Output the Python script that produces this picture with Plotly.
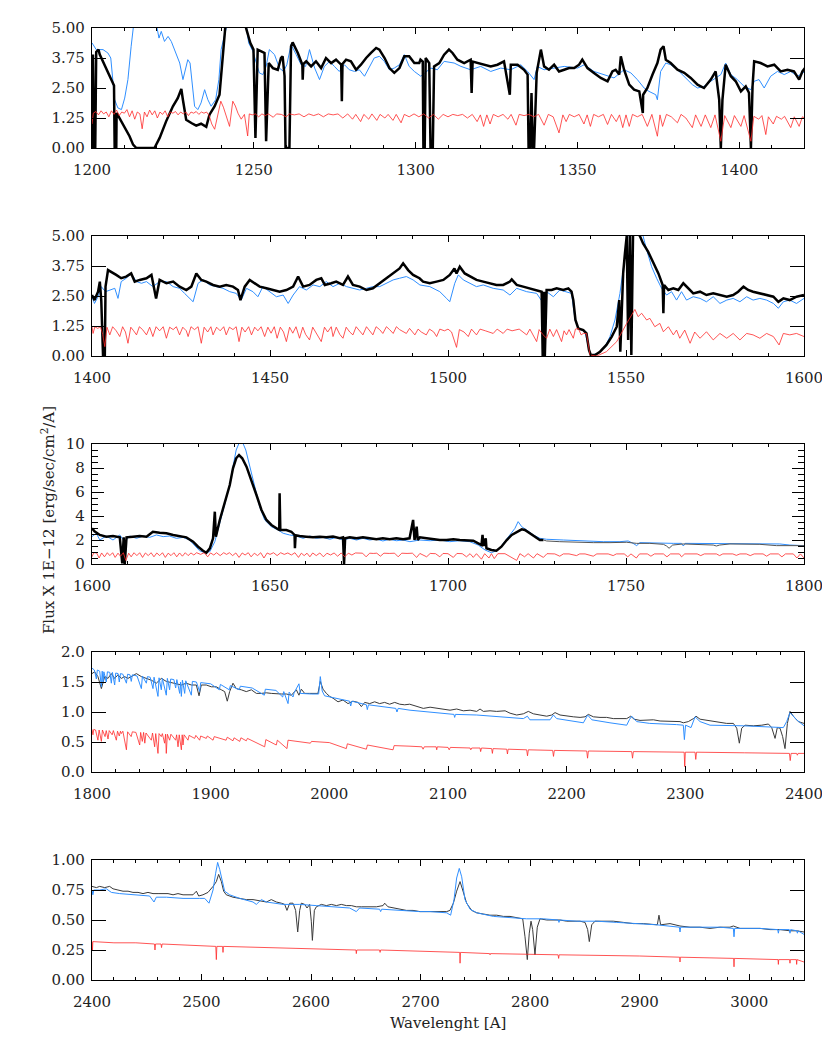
import plotly.graph_objects as go
from plotly.subplots import make_subplots

# ---------------- data: (wavelength [A], flux [1E-12 erg/s/cm2/A]) ----------------
P1_BLACK = [(1200.0,0.0),(1200.3,3.9),(1200.6,0.0),(1201.0,0.0),(1201.3,4.0),(1202.0,4.1),(1202.4,3.89),
 (1204.4,3.33),(1206.5,2.71),(1206.8,2.6),(1207.0,0.0),(1207.5,0.0),(1207.6,1.46),(1209.6,0.97),(1211.6,0.49),
 (1212.7,0.14),(1213.7,0.0),(1219.3,0.0),(1220.9,0.42),(1222.9,1.11),(1225.0,1.74),(1226.5,2.08),(1227.6,2.46),
 (1228.1,2.0),(1229.1,1.18),(1230.7,1.04),(1232.2,0.93),(1233.7,1.01),(1235.3,0.88),(1236.3,1.39),(1237.9,1.74),
 (1239.4,2.22),(1240.2,3.4),(1241.3,5.0),(1241.8,6.0),(1247.2,6.0),(1247.6,5.0),(1248.9,4.38),(1249.9,4.1),
 (1250.5,0.42),(1251.2,4.1),(1252.3,4.03),(1253.3,3.96),(1253.8,0.28),(1254.6,3.54),(1255.9,3.33),(1257.4,3.26),
 (1258.4,3.75),(1258.9,3.82),(1259.5,3.0),(1259.8,0.0),(1261.0,0.0),(1261.5,4.24),(1262.0,4.4),(1263.6,3.96),
 (1265.0,3.47),(1265.1,2.85),(1265.3,3.5),(1266.2,3.61),(1267.7,3.4),(1269.2,3.61),(1270.8,3.33),(1272.3,3.75),
 (1273.9,3.54),(1275.4,3.68),(1277.0,3.47),(1277.2,1.95),(1277.4,3.5),(1278.5,3.68),(1280.0,3.61),(1281.6,3.26),
 (1283.1,3.47),(1284.7,3.75),(1286.2,3.96),(1287.8,4.17),(1288.8,4.1),(1290.4,3.75),(1291.9,3.33),(1293.4,3.13),
 (1295.0,3.33),(1296.5,3.82),(1298.0,3.82),(1299.6,3.54),(1301.1,3.54),(1301.5,3.68),(1302.2,3.6),(1302.4,0.0),
 (1302.8,0.0),(1303.1,3.75),(1304.2,3.54),(1304.6,0.0),(1305.3,0.0),(1305.7,3.4),(1307.3,3.54),(1308.8,3.89),
 (1310.3,4.1),(1311.4,3.96),(1312.9,3.68),(1315.0,3.54),(1317.0,3.68),(1317.3,2.29),(1317.6,3.6),(1319.1,3.54),
 (1321.2,3.47),(1323.2,3.4),(1325.3,3.47),(1327.3,3.61),(1329.1,2.22),(1329.4,3.47),(1331.5,3.47),(1333.5,3.26),
 (1334.6,3.06),(1334.9,0.0),(1335.4,0.0),(1335.8,2.29),(1336.2,0.0),(1336.6,0.0),(1337.4,3.13),(1338.7,4.1),
 (1339.7,3.4),(1341.2,3.26),(1342.8,3.47),(1344.3,3.19),(1345.9,3.26),(1347.4,3.33),(1349.0,3.33),(1350.5,3.47),
 (1351.5,3.68),(1353.1,3.33),(1355.1,3.13),(1357.2,2.92),(1359.3,2.78),(1360.8,3.19),(1361.8,3.26),(1362.9,3.06),
 (1363.4,3.82),(1364.4,3.26),(1366.0,2.64),(1367.5,2.43),(1369.1,2.36),(1370.2,1.46),(1370.3,2.22),(1371.6,2.5),
 (1373.2,3.06),(1374.7,3.54),(1375.7,4.1),(1376.6,4.24),(1377.3,3.68),(1378.8,3.54),(1380.9,3.26),(1383.0,3.13),
 (1385.0,2.92),(1387.1,2.64),(1389.1,2.5),(1391.2,2.85),(1392.7,3.19),(1393.8,2.01),(1394.3,0.0),(1394.8,2.01),
 (1395.8,3.47),(1397.4,2.99),(1398.9,2.78),(1400.5,2.36),(1402.0,2.57),(1403.0,2.3),(1403.6,0.0),(1404.1,2.57),
 (1404.6,3.61),(1406.6,3.54),(1408.7,3.4),(1410.8,3.47),(1412.8,3.19),(1414.9,3.26),(1416.9,3.19),(1418.5,2.85),
 (1419.5,3.19),(1420.3,3.33)]

P1_BLUE = [(1200.0,4.38),(1201.3,4.1),(1203.4,4.1),(1204.9,3.96),(1205.8,3.75),(1207.0,2.01),(1208.0,1.67),
 (1209.1,1.6),(1210.1,2.08),(1211.1,2.85),(1212.1,4.24),(1213.0,5.0),(1213.6,6.0),(1219.5,6.0),(1220.1,5.0),
 (1220.7,4.58),(1221.4,4.86),(1222.4,4.44),(1223.5,4.65),(1224.5,4.44),(1225.5,4.1),(1227.1,3.54),(1228.1,2.85),
 (1228.9,3.26),(1229.6,3.68),(1230.3,3.54),(1231.0,2.71),(1231.7,1.74),(1232.7,1.6),(1233.7,1.88),(1234.8,2.43),
 (1235.8,2.01),(1236.8,1.74),(1238.2,2.01),(1239.2,2.85),(1239.9,4.1),(1240.6,4.51),(1241.5,5.0),(1242.0,6.0),
 (1247.3,6.0),(1247.8,5.0),(1248.4,4.38),(1249.7,4.03),(1250.7,3.54),(1251.7,3.13),(1252.8,3.06),(1253.8,3.4),
 (1254.8,4.1),(1256.4,3.89),(1257.9,3.33),(1259.2,3.19),(1260.2,3.47),(1261.5,4.31),(1263.1,3.89),(1264.6,3.47),
 (1266.0,3.4),(1267.2,4.1),(1268.8,3.33),(1270.3,2.85),(1271.8,3.4),(1273.4,3.61),(1274.9,3.4),(1276.4,3.19),
 (1278.0,3.47),(1279.5,3.26),(1281.1,3.19),(1282.6,3.26),(1284.2,2.99),(1285.7,3.4),(1287.2,3.75),(1288.8,3.82),
 (1290.3,3.61),(1291.9,3.26),(1293.4,3.33),(1295.0,3.47),(1296.5,3.89),(1298.0,3.4),(1299.6,3.19),(1301.6,2.99),
 (1304.7,3.33),(1306.7,3.26),(1308.8,3.61),(1311.9,3.54),(1314.0,3.4),(1317.0,3.26),(1320.1,3.4),(1323.2,3.19),
 (1326.3,3.33),(1329.4,3.26),(1332.5,3.47),(1334.6,3.19),(1336.6,2.85),(1337.6,3.4),(1339.7,3.26),(1342.8,3.33),
 (1345.9,3.4),(1350.0,3.33),(1352.1,3.47),(1355.1,3.19),(1358.2,3.06),(1361.3,2.92),(1364.4,3.26),(1366.5,3.13),
 (1368.5,2.85),(1370.6,2.5),(1372.1,2.36),(1374.2,2.22),(1374.7,2.01),(1375.7,3.19),(1377.3,3.54),(1378.8,3.47),
 (1380.9,3.26),(1383.0,2.99),(1385.5,2.64),(1387.1,2.5),(1389.1,2.57),(1391.2,2.78),(1394.3,3.06),(1395.8,3.54),
 (1397.4,3.06),(1399.4,2.85),(1401.5,2.57),(1403.6,2.43),(1404.6,2.78),(1406.1,2.85),(1407.7,2.5),(1409.7,2.99),
 (1411.8,3.19),(1413.9,3.06),(1415.9,3.19),(1418.0,2.99),(1420.3,3.19)]

P1_RED = [(1200.0,1.0),(1200.4,1.45),(1201.2,1.52),(1202.0,1.38),(1202.8,1.55),(1203.6,1.42),(1204.4,1.5),
 (1205.2,1.3),(1206.0,1.55),(1206.8,1.4),(1207.6,1.58),(1208.4,1.35),(1209.2,1.5),(1210.0,1.45),(1210.8,1.6),
 (1211.6,1.3),(1212.4,1.55),(1213.2,1.2),(1214.0,1.5),(1214.8,1.42),(1215.5,0.8),(1216.2,1.5),(1217.0,1.3),
 (1217.8,1.58),(1218.6,1.38),(1219.4,1.55),(1220.2,1.25),(1221.0,1.5),(1221.8,1.4),(1222.6,1.55),(1223.4,1.3),
 (1224.2,1.5),(1225.0,1.45),(1225.8,1.52),(1226.6,1.38),(1227.4,1.5),(1228.2,1.42),(1229.0,1.5),(1229.8,1.35),
 (1230.6,1.5),(1231.4,1.45),(1232.2,1.52),(1233.0,1.4),(1233.8,1.5),(1234.6,1.45),(1235.4,1.5),(1236.2,1.35),
 (1237.0,1.0),(1237.9,0.78),(1238.8,1.3),(1239.8,1.95),(1240.6,1.7),(1241.5,1.3),(1242.5,0.9),(1243.5,1.95),
 (1244.3,1.75),(1245.1,1.45),(1246.1,1.2),(1247.1,1.4),(1248.1,0.5),(1248.6,1.42),(1249.5,1.38),(1250.5,1.42),
 (1251.5,1.3),(1252.5,1.42),(1253.5,1.35),(1254.5,1.42),(1256.0,1.28),(1257.0,1.42),(1258.5,1.4),(1260.0,1.3),
 (1261.0,1.42),(1262.5,1.38),(1264.0,1.42),(1265.5,1.3),(1267.0,1.42),(1268.5,1.35),(1270.0,1.42),(1271.5,1.3),
 (1273.0,1.42),(1274.5,1.38),(1276.0,1.42),(1277.5,1.25),(1279.0,1.42),(1280.5,1.2),(1281.5,1.4),(1283.0,1.1),
 (1284.0,1.4),(1285.5,1.2),(1286.5,1.42),(1288.0,1.15),(1289.0,1.4),(1290.5,1.25),(1291.5,1.4),(1293.0,1.15),
 (1294.0,1.4),(1295.5,1.05),(1296.5,1.4),(1298.0,1.3),(1299.5,1.42),(1301.0,1.3),(1302.5,1.42),(1304.0,1.25),
 (1305.5,1.4),(1307.0,1.2),(1308.5,1.4),(1310.0,1.3),(1311.5,1.4),(1313.0,1.35),(1314.5,1.4),(1316.0,1.25),
 (1317.5,1.4),(1319.0,1.1),(1320.0,1.38),(1321.0,0.9),(1322.0,1.38),(1323.0,1.0),(1324.0,1.4),(1325.5,1.3),
 (1327.0,1.4),(1328.5,1.2),(1329.5,1.4),(1331.0,0.95),(1332.0,1.4),(1333.5,1.35),(1335.0,1.4),(1336.5,1.3),
 (1338.0,1.4),(1339.7,0.95),(1341.0,1.4),(1342.5,1.3),(1344.3,0.63),(1345.5,1.38),(1346.5,1.1),(1347.5,1.4),
 (1349.0,1.3),(1350.5,1.4),(1352.0,1.0),(1353.0,1.38),(1354.0,0.9),(1355.0,1.4),(1356.5,1.3),(1358.0,1.4),
 (1359.3,0.98),(1360.5,1.4),(1362.0,1.1),(1363.0,1.38),(1364.0,0.85),(1365.0,1.38),(1366.0,0.9),(1367.0,1.4),
 (1368.5,1.3),(1370.0,1.4),(1371.6,0.9),(1373.0,1.4),(1374.7,0.49),(1375.5,1.38),(1376.3,0.9),(1377.5,1.4),
 (1379.0,1.3),(1380.9,1.05),(1382.0,1.4),(1383.5,1.25),(1385.5,0.85),(1386.5,1.38),(1388.2,0.9),(1389.5,1.38),
 (1391.2,0.85),(1392.5,1.38),(1394.3,0.28),(1395.5,1.35),(1397.4,0.85),(1398.5,1.35),(1400.5,0.9),(1401.5,1.35),
 (1403.6,0.28),(1404.5,1.32),(1406.0,1.2),(1407.0,1.35),(1408.2,0.56),(1409.0,1.3),(1410.5,1.0),(1411.5,1.32),
 (1413.0,1.2),(1414.0,1.32),(1415.9,0.85),(1417.0,1.3),(1418.5,0.9),(1419.5,1.3),(1420.3,1.25)]

P2_BLACK = [(1400.0,2.54),(1400.7,2.33),(1401.7,2.68),(1402.2,3.1),(1402.6,2.33),(1403.1,0.0),(1403.6,0.0),
 (1403.8,2.89),(1404.5,3.58),(1405.4,3.51),(1406.8,3.38),(1408.2,3.24),(1409.6,3.31),(1411.0,3.44),(1412.0,3.1),
 (1413.4,3.17),(1415.3,3.24),(1416.7,3.38),(1417.6,2.68),(1418.0,2.4),(1419.0,3.17),(1420.9,3.03),(1422.8,3.1),
 (1424.6,2.89),(1426.5,2.75),(1427.9,2.89),(1429.3,3.44),(1430.7,3.17),(1432.1,3.1),(1434.0,2.96),(1435.9,2.89),
 (1437.7,2.96),(1439.6,2.89),(1441.0,2.75),(1441.7,2.33),(1442.9,2.89),(1444.3,3.17),(1445.7,3.03),(1447.1,2.89),
 (1449.0,2.82),(1450.8,2.75),(1452.7,2.68),(1454.6,2.75),(1456.5,2.89),(1457.9,3.31),(1459.3,2.89),(1461.1,2.96),
 (1463.0,3.17),(1464.4,3.24),(1465.4,2.96),(1467.2,3.03),(1468.6,3.1),(1470.5,2.96),(1471.9,3.31),(1473.3,2.96),
 (1475.2,2.89),(1477.1,2.75),(1478.9,2.82),(1480.8,3.03),(1482.7,3.24),(1484.6,3.44),(1486.4,3.65),(1487.4,3.86),
 (1488.8,3.58),(1490.2,3.38),(1492.0,3.24),(1493.0,3.1),(1494.9,3.03),(1496.8,3.1),(1498.7,3.17),(1500.5,3.38),
 (1501.8,3.65),(1502.4,3.44),(1503.3,3.72),(1504.7,3.44),(1506.2,3.31),(1508.0,3.17),(1509.9,3.1),(1511.8,3.03),
 (1513.6,2.96),(1515.5,2.96),(1517.4,3.1),(1517.9,3.19),(1519.3,2.96),(1521.1,2.89),(1523.0,2.82),(1524.9,2.75),
 (1526.3,2.68),(1526.6,0.0),(1527.0,2.68),(1527.2,0.0),(1527.7,2.75),(1529.1,2.75),(1530.5,2.82),(1532.4,2.75),
 (1533.8,2.82),(1534.7,2.68),(1535.2,2.33),(1535.8,1.5),(1536.6,1.15),(1538.0,1.08),(1538.9,0.94),(1539.6,0.25),
 (1540.1,0.04),(1541.3,0.04),(1542.7,0.18),(1544.5,0.46),(1546.0,0.81),(1547.4,1.22),(1548.1,2.33),(1548.4,0.18),
 (1548.8,2.33),(1549.2,3.44),(1549.7,4.28),(1550.2,5.0),(1550.6,0.67),(1551.1,5.3),(1551.5,0.04),(1552.0,5.3),
 (1553.9,5.0),(1554.8,4.69),(1556.2,4.35),(1557.6,3.93),(1559.1,3.44),(1560.3,2.96),(1560.5,1.78),(1560.7,2.96),
 (1561.9,2.75),(1563.3,2.82),(1564.7,2.75),(1566.1,3.03),(1567.5,2.82),(1568.9,2.61),(1570.8,2.68),(1572.6,2.54),
 (1574.5,2.61),(1576.4,2.54),(1578.3,2.47),(1580.1,2.54),(1581.5,2.68),(1583.0,2.89),(1584.3,2.75),(1585.7,2.68),
 (1587.6,2.61),(1589.5,2.54),(1591.4,2.47),(1592.8,2.26),(1594.2,2.4),(1596.0,2.33),(1597.9,2.47),(1600.0,2.54)]

P2_BLUE = [(1400.0,2.47),(1400.7,2.19),(1401.7,2.47),(1402.6,2.89),(1403.8,2.68),(1405.0,2.75),(1406.4,2.82),
 (1407.3,2.4),(1408.2,3.1),(1409.6,3.24),(1411.0,3.44),(1412.5,3.1),(1413.9,3.03),(1415.3,3.1),(1417.1,2.89),
 (1419.0,3.1),(1420.9,3.1),(1422.8,2.89),(1424.6,2.82),(1426.0,2.61),(1427.4,2.4),(1428.4,2.26),(1429.8,3.03),
 (1431.2,3.17),(1433.1,2.96),(1434.9,2.89),(1436.8,2.82),(1438.7,2.68),(1440.5,2.61),(1441.9,2.33),(1443.4,2.82),
 (1445.2,2.68),(1446.6,2.47),(1448.0,2.89),(1449.9,2.68),(1451.8,2.47),(1453.7,2.54),(1455.1,2.19),(1456.5,2.54),
 (1458.3,2.89),(1460.2,2.75),(1462.1,2.96),(1464.0,2.89),(1465.8,3.1),(1467.7,2.89),(1469.6,3.03),(1471.5,2.89),
 (1473.3,2.82),(1475.2,2.75),(1477.1,2.82),(1478.9,2.89),(1480.8,2.89),(1482.7,3.03),(1484.6,3.17),(1486.4,3.24),
 (1488.3,3.31),(1490.2,3.17),(1492.1,2.96),(1494.9,2.89),(1497.7,2.68),(1499.6,2.4),(1500.5,2.26),(1501.9,3.03),
 (1502.9,3.38),(1504.3,3.17),(1506.2,3.03),(1508.0,2.89),(1509.9,2.96),(1512.7,2.82),(1515.5,2.75),(1517.4,2.54),
 (1519.3,2.82),(1522.1,2.68),(1524.9,2.61),(1526.3,2.33),(1526.8,2.19),(1527.7,2.68),(1529.6,2.47),(1531.4,2.75),
 (1533.3,2.68),(1534.7,2.61),(1535.7,1.5),(1536.6,1.15),(1538.5,1.01),(1539.7,0.18),(1540.3,0.04),(1542.2,0.11),
 (1544.1,0.39),(1545.5,0.81),(1546.9,1.5),(1548.3,2.61),(1549.7,4.14),(1550.6,5.0),(1551.0,5.5),(1554.5,5.5),
 (1554.8,5.0),(1555.8,4.42),(1557.2,3.72),(1558.6,3.24),(1560.0,2.82),(1561.4,2.54),(1562.8,2.68),(1564.2,2.33),
 (1565.6,2.68),(1567.0,2.33),(1568.9,2.47),(1570.8,2.4),(1572.6,2.26),(1574.5,2.47),(1576.4,2.19),(1578.3,2.33),
 (1580.1,2.4),(1582.0,2.26),(1583.9,2.47),(1585.7,2.33),(1587.6,2.4),(1589.5,2.33),(1591.4,2.19),(1592.8,1.99),
 (1594.2,2.26),(1596.0,2.33),(1597.9,2.19),(1600.0,2.4)]

P2_RED = [(1400.0,1.22),(1400.3,0.94),(1400.8,1.22),(1401.6,1.15),(1402.4,1.22),(1403.0,0.9),(1403.6,0.39),
 (1404.2,1.2),(1405.0,0.88),(1405.8,1.22),(1406.8,1.05),(1407.8,0.81),(1408.6,1.22),(1409.4,1.0),(1410.1,0.53),
 (1410.9,1.2),(1411.7,1.05),(1412.5,0.88),(1413.3,1.22),(1414.2,1.1),(1415.3,0.88),(1416.2,1.2),(1417.1,0.81),
 (1418.0,1.22),(1419.0,1.05),(1420.0,1.22),(1420.9,0.74),(1421.8,1.2),(1422.8,1.1),(1423.7,1.22),(1424.6,0.88),
 (1425.5,1.2),(1426.5,1.05),(1427.0,0.81),(1427.8,1.22),(1428.8,1.1),(1429.8,1.22),(1430.7,0.53),(1431.5,1.2),
 (1432.5,1.0),(1433.4,1.22),(1434.0,0.88),(1435.0,1.2),(1436.0,1.05),(1437.0,1.22),(1437.7,0.88),(1438.6,1.2),
 (1439.6,1.1),(1440.5,1.22),(1441.3,0.6),(1442.1,1.2),(1443.0,1.0),(1444.0,1.22),(1444.8,0.88),(1445.7,1.2),
 (1446.6,1.05),(1447.5,1.22),(1448.5,0.81),(1449.4,1.2),(1450.3,0.95),(1451.2,1.22),(1452.0,0.74),(1452.9,1.2),
 (1453.8,1.0),(1454.6,0.6),(1455.5,1.2),(1456.4,0.95),(1457.3,1.22),(1458.3,0.74),(1459.2,1.2),(1460.0,0.9),
 (1461.1,0.67),(1462.0,1.2),(1463.0,0.95),(1464.4,0.6),(1465.3,1.2),(1466.2,1.0),(1467.2,1.22),(1467.7,0.81),
 (1468.6,1.2),(1469.6,0.9),(1470.5,0.74),(1471.4,1.2),(1472.4,1.0),(1473.3,0.88),(1474.2,1.22),(1475.2,1.05),
 (1476.1,0.88),(1477.1,1.22),(1478.0,1.05),(1478.9,0.88),(1479.8,1.22),(1480.8,1.1),(1481.7,0.94),(1482.7,1.22),
 (1483.6,1.1),(1484.6,0.94),(1485.5,1.22),(1486.4,1.1),(1488.3,0.94),(1489.2,1.15),(1490.7,0.88),(1491.6,1.12),
 (1492.5,1.0),(1493.9,0.88),(1494.8,1.12),(1496.0,1.0),(1496.8,0.81),(1497.7,1.12),(1499.0,1.05),(1500.0,1.12),
 (1501.0,1.0),(1502.4,0.36),(1503.2,1.1),(1504.5,1.0),(1505.7,0.81),(1506.6,1.12),(1508.0,0.88),(1509.0,1.12),
 (1510.5,1.05),(1512.7,0.94),(1513.8,1.12),(1515.5,0.94),(1516.6,1.12),(1518.0,1.05),(1520.0,1.12),(1522.1,0.88),
 (1523.0,1.12),(1524.9,0.6),(1525.6,1.1),(1526.6,0.9),(1527.7,0.74),(1528.6,1.12),(1529.6,0.81),(1530.5,1.1),
 (1531.9,0.6),(1532.6,1.05),(1533.3,0.88),(1534.0,1.1),(1535.2,0.74),(1535.8,1.12),(1536.6,1.15),(1537.4,0.88),
 (1538.0,0.94),(1538.9,0.94),(1539.9,0.04),(1541.8,0.0),(1544.5,0.18),(1547.4,0.6),(1550.2,1.36),(1552.5,1.94),
 (1553.4,1.64),(1554.4,1.78),(1555.8,1.5),(1556.7,1.57),(1558.1,1.22),(1559.5,1.36),(1560.5,1.01),(1561.9,1.22),
 (1563.3,0.88),(1564.2,1.08),(1565.1,0.74),(1566.5,1.08),(1568.0,0.53),(1569.3,1.0),(1570.8,0.74),(1572.6,1.01),
 (1574.5,0.67),(1576.4,0.94),(1578.3,0.74),(1580.1,0.94),(1582.0,0.67),(1583.9,0.94),(1585.7,0.88),(1587.6,0.74),
 (1589.5,0.94),(1591.4,0.81),(1593.0,0.46),(1594.2,0.94),(1596.0,0.88),(1597.9,0.94),(1600.0,0.81)]

P3_BLACK = [(1600.0,2.97),(1600.7,2.72),(1602.2,2.42),(1604.0,2.28),(1605.9,2.33),(1607.8,2.22),(1608.5,0.05),
 (1608.9,2.22),(1609.2,0.0),(1609.7,2.22),(1611.5,2.28),(1613.4,2.33),(1615.3,2.28),(1617.1,2.69),(1619.0,2.61),
 (1620.9,2.56),(1622.8,2.42),(1624.6,2.33),(1626.5,2.22),(1628.4,1.86),(1629.8,1.44),(1631.2,1.11),(1632.1,0.94),
 (1633.1,1.31),(1634.0,2.14),(1634.5,4.36),(1634.8,2.28),(1635.9,3.67),(1637.3,5.06),(1638.7,6.58),(1639.6,7.97),
 (1640.5,8.81),(1641.3,9.08),(1642.2,8.81),(1643.4,8.11),(1644.8,7.0),(1646.2,5.75),(1647.6,4.5),(1649.0,3.67),
 (1650.4,3.25),(1651.8,2.97),(1652.6,2.83),(1652.7,5.9),(1652.9,2.83),(1654.6,2.83),(1656.0,2.69),(1656.9,2.42),
 (1657.0,1.31),(1657.2,2.4),(1658.3,2.33),(1660.2,2.28),(1662.1,2.22),(1664.0,2.28),(1665.8,2.22),(1667.7,2.28),
 (1669.6,2.14),(1670.5,2.22),(1670.8,0.0),(1671.1,2.14),(1672.4,2.22),(1674.3,2.14),(1676.1,2.22),(1678.0,2.14),
 (1679.9,2.06),(1681.7,2.14),(1683.6,2.06),(1685.5,2.14),(1687.4,2.06),(1689.2,2.14),(1690.2,3.67),(1690.6,2.0),
 (1691.2,3.11),(1691.5,2.0),(1692.1,2.22),(1694.0,2.14),(1695.9,2.06),(1697.7,2.0),(1699.6,2.0),(1701.5,2.06),
 (1703.3,2.0),(1705.2,1.94),(1707.1,1.94),(1708.5,1.72),(1709.4,1.58),(1709.7,2.42),(1710.0,1.5),(1710.6,2.14),
 (1710.8,1.31),(1712.2,1.17),(1713.6,1.11),(1715.0,1.44),(1716.5,2.0),(1717.9,2.42),(1719.3,2.69),(1720.7,2.89),
 (1721.6,2.83),(1723.0,2.56),(1724.4,2.28),(1725.8,2.0),(1726.8,2.0)]

P3_BLACK_LOWRES = [(1726.8,2.0),(1727.7,1.92),(1731.4,1.86),(1736.1,1.81),(1740.8,1.78),(1745.5,1.78),
 (1750.2,1.81),(1753.0,1.72),(1756.7,1.72),(1760.5,1.64),(1761.4,1.5),(1762.1,1.31),(1763.1,1.58),(1766.1,1.67),
 (1770.8,1.64),(1774.5,1.58),(1775.4,1.5),(1776.3,1.58),(1779.2,1.67),(1783.0,1.67),(1787.6,1.64),(1792.3,1.53),
 (1796.0,1.5),(1800.0,1.53)]

P3_BLUE = [(1600.0,2.28),(1601.2,2.56),(1602.2,2.0),(1604.0,2.33),(1605.9,2.0),(1607.8,2.42),(1609.2,1.86),
 (1610.6,2.33),(1612.5,2.14),(1614.4,2.33),(1616.2,2.22),(1618.1,2.42),(1620.0,2.28),(1621.8,2.33),(1623.7,2.14),
 (1625.6,2.22),(1627.4,2.0),(1628.8,1.58),(1630.2,1.11),(1631.6,0.94),(1633.1,1.03),(1634.5,1.86),(1635.9,3.39),
 (1637.3,4.92),(1638.7,6.58),(1639.6,8.11),(1640.5,9.5),(1641.3,10.06),(1642.4,10.06),(1643.2,9.5),(1644.3,8.11),
 (1645.7,6.44),(1647.1,4.78),(1648.5,3.67),(1650.4,3.11),(1652.3,2.83),(1653.7,2.56),(1655.5,2.42),(1657.4,2.33),
 (1659.3,2.14),(1661.2,2.33),(1663.0,2.14),(1664.9,2.22),(1666.8,2.06),(1668.7,2.22),(1670.5,2.0),(1672.4,2.14),
 (1674.3,2.0),(1676.1,2.14),(1678.0,2.0),(1679.9,2.08),(1681.7,1.92),(1683.6,2.06),(1685.5,1.94),(1687.4,2.0),
 (1689.3,1.86),(1692.1,2.0),(1695.0,1.94),(1697.7,2.0),(1700.5,1.86),(1703.3,1.94),(1706.1,1.86),(1708.5,1.58),
 (1710.4,1.17),(1712.2,0.94),(1714.1,1.17),(1716.0,1.86),(1717.4,2.42),(1718.8,2.97),(1719.7,3.53),(1720.7,3.11),
 (1722.1,2.83),(1724.0,2.42),(1725.8,2.14),(1727.7,2.06),(1732.4,2.0),(1738.0,1.92),(1743.6,1.86),(1748.3,1.86),
 (1750.6,1.92),(1752.0,1.72),(1753.0,1.53),(1753.9,1.78),(1758.6,1.72),(1763.3,1.72),(1765.6,1.72),(1766.1,1.5),
 (1766.6,1.72),(1771.7,1.72),(1778.3,1.72),(1783.0,1.72),(1788.5,1.67),(1793.2,1.67),(1796.0,1.58),(1800.0,1.53)]

P3_RED = [(1600.0,0.6),(1600.5,0.94),(1601.3,0.92),(1602.0,0.5),(1602.7,0.92),(1603.5,0.6),(1604.3,0.94),
 (1605.0,0.7),(1605.8,0.94),(1606.5,0.55),(1607.3,0.9),(1608.0,0.65),(1608.8,0.94),(1609.5,0.3),(1610.3,0.9),
 (1611.0,0.6),(1611.8,0.94),(1612.6,0.7),(1613.4,0.94),(1614.2,0.55),(1615.0,0.92),(1615.8,0.7),(1616.6,0.94),
 (1617.4,0.6),(1618.2,0.92),(1619.0,0.7),(1619.8,0.94),(1620.6,0.55),(1621.4,0.9),(1622.2,0.7),(1623.0,0.94),
 (1623.8,0.6),(1624.6,0.92),(1625.4,0.65),(1626.2,0.94),(1627.0,0.7),(1627.8,0.92),(1628.6,0.75),(1629.4,0.94),
 (1630.5,0.8),(1631.5,0.94),(1632.5,0.6),(1633.3,0.92),(1634.2,0.75),(1635.0,0.94),(1636.0,0.7),(1637.0,0.94),
 (1637.8,0.8),(1638.6,0.94),(1639.5,0.7),(1640.4,0.92),(1641.3,0.55),(1642.2,0.92),(1643.0,0.75),(1643.9,0.94),
 (1644.7,0.6),(1645.6,0.9),(1646.5,0.7),(1647.4,0.94),(1648.3,0.5),(1649.2,0.92),(1650.0,0.8),(1651.0,0.94),
 (1652.0,0.7),(1653.0,0.94),(1654.0,0.8),(1655.0,0.92),(1656.0,0.75),(1657.0,0.94),(1658.0,0.55),(1658.8,0.9),
 (1659.6,0.7),(1660.4,0.9),(1661.2,0.6),(1662.0,0.92),(1663.0,0.7),(1664.0,0.92),(1665.0,0.6),(1666.0,0.9),
 (1667.0,0.75),(1668.0,0.92),(1669.0,0.65),(1670.0,0.92),(1671.0,0.6),(1672.0,0.9),(1673.0,0.75),(1674.0,0.92),
 (1675.0,0.88),(1676.0,0.9),(1677.0,0.6),(1678.0,0.9),(1679.0,0.88),(1680.0,0.9),(1681.0,0.65),(1682.0,0.9),
 (1683.5,0.88),(1685.0,0.9),(1686.0,0.6),(1687.0,0.9),(1688.5,0.88),(1690.0,0.9),(1691.2,0.55),(1692.1,0.88),
 (1694.0,0.6),(1695.0,0.88),(1696.5,0.86),(1697.7,0.6),(1698.6,0.88),(1700.0,0.86),(1701.5,0.55),(1702.5,0.88),
 (1704.0,0.86),(1705.2,0.6),(1706.2,0.86),(1707.1,0.55),(1708.0,0.86),(1709.4,0.4),(1710.3,0.86),(1711.5,0.5),
 (1712.2,0.86),(1713.0,0.45),(1714.0,0.86),(1716.0,0.86),(1719.3,0.3),(1720.2,0.86),(1721.5,0.6),(1722.5,0.86),
 (1724.0,0.5),(1725.0,0.86),(1726.8,0.55),(1727.8,0.86),(1730.0,0.84),(1731.4,0.65),(1732.4,0.84),(1734.0,0.84),
 (1736.1,0.7),(1737.0,0.84),(1738.5,0.84),(1740.8,0.65),(1741.8,0.84),(1745.0,0.84),(1746.4,0.7),(1747.3,0.84),
 (1749.5,0.84),(1750.5,0.6),(1751.4,0.84),(1752.9,0.5),(1753.8,0.84),(1756.0,0.84),(1757.0,0.65),(1758.0,0.84),
 (1760.5,0.84),(1761.5,0.6),(1762.5,0.84),(1765.0,0.84),(1765.6,0.6),(1766.5,0.84),(1770.0,0.84),(1771.0,0.7),
 (1772.0,0.84),(1775.4,0.84),(1776.3,0.7),(1777.2,0.84),(1780.0,0.84),(1781.0,0.72),(1782.0,0.84),(1783.8,0.84),
 (1784.9,0.7),(1786.0,0.84),(1788.5,0.84),(1789.5,0.65),(1790.5,0.84),(1792.8,0.84),(1793.8,0.6),(1794.8,0.84),
 (1797.0,0.84),(1798.0,0.5),(1799.0,0.84),(1800.0,0.5)]

P4_BLACK = [(1800.0,1.64),(1802.2,1.67),(1805.0,1.59),(1807.9,1.39),(1810.7,1.59),(1813.5,1.56),(1816.3,1.64),
 (1819.1,1.56),(1821.9,1.62),(1824.7,1.56),(1827.5,1.59),(1830.3,1.56),(1833.1,1.59),(1837.4,1.64),(1841.6,1.59),
 (1845.8,1.56),(1850.0,1.53),(1854.2,1.48),(1858.4,1.56),(1862.6,1.51),(1866.9,1.49),(1871.1,1.48),(1875.3,1.45),
 (1879.5,1.48),(1883.7,1.45),(1887.9,1.45),(1890.2,1.27),(1892.1,1.45),(1896.3,1.45),(1900.6,1.42),(1904.8,1.42),
 (1909.0,1.37),(1911.8,1.34),(1914.0,1.18),(1916.0,1.34),(1918.8,1.48),(1921.6,1.39),(1925.8,1.37),(1930.0,1.34),
 (1934.3,1.37),(1938.5,1.31),(1942.7,1.31),(1946.9,1.32),(1951.1,1.31),(1955.3,1.3),(1959.6,1.3),(1963.8,1.3),
 (1968.0,1.28),(1972.2,1.37),(1974.4,1.28),(1976.4,1.38),(1979.2,1.31),(1983.4,1.31),(1987.6,1.31),(1990.4,1.31),
 (1992.4,1.51),(1994.7,1.38),(1997.5,1.31),(2000.3,1.26),(2003.1,1.23),(2007.3,1.17),(2011.5,1.2),(2015.7,1.14),
 (2019.9,1.18),(2024.2,1.16),(2027.0,1.09),(2029.8,1.16),(2034.0,1.14),(2038.2,1.17),(2042.4,1.14),(2046.6,1.16),
 (2050.8,1.13),(2055.1,1.16),(2059.3,1.13),(2063.5,1.12),(2067.7,1.13),(2073.6,1.1),(2079.2,1.06),(2084.9,1.08),
 (2090.5,1.06),(2096.1,1.04),(2101.7,1.03),(2107.3,1.05),(2112.9,1.02),(2118.6,1.03),(2124.2,1.01),(2127.0,1.05),
 (2129.8,1.01),(2135.4,1.02),(2141.0,1.01),(2148.1,1.02),(2152.3,0.98),(2157.9,0.95),(2163.5,0.97),(2167.7,1.01),
 (2171.9,0.97),(2177.5,0.95),(2183.2,0.93),(2187.4,0.95),(2190.2,0.99),(2194.4,0.95),(2200.0,0.93),(2205.6,0.92),
 (2211.3,0.91),(2215.5,0.92),(2218.3,0.96),(2222.5,0.92),(2228.1,0.91),(2233.7,0.91),(2239.3,0.89),(2245.0,0.89),
 (2250.6,0.89),(2254.0,0.93),(2256.8,0.88),(2261.8,0.86),(2267.4,0.86),(2273.1,0.87),(2278.7,0.85),(2284.3,0.85),
 (2289.9,0.84),(2295.5,0.84),(2298.3,0.82),(2302.5,0.84),(2306.8,0.89),(2309.0,0.93),(2312.4,0.88),(2318.0,0.86),
 (2323.6,0.84),(2329.2,0.82),(2334.8,0.81),(2340.5,0.81),(2343.3,0.73),(2345.5,0.48),(2347.5,0.73),(2350.3,0.78),
 (2357.3,0.77),(2364.4,0.78),(2370.0,0.8),(2372.8,0.74),(2375.6,0.56),(2377.5,0.74),(2379.8,0.73),(2382.0,0.59),
 (2384.0,0.39),(2386.0,0.81),(2388.2,1.01),(2391.0,0.93),(2395.2,0.84),(2400.0,0.81)]

P4_BLUE = [(1800.0,1.73),(1802.0,1.7),(1803.7,1.55),(1804.5,1.7),(1806.5,1.68),(1807.9,1.42),(1808.6,1.68),
 (1809.3,1.48),(1810.0,1.67),(1812.0,1.5),(1813.0,1.67),(1815.0,1.66),(1816.3,1.48),(1817.2,1.66),(1819.1,1.45),
 (1820.0,1.65),(1822.0,1.64),(1823.0,1.5),(1824.0,1.64),(1826.0,1.63),(1829.0,1.48),(1830.0,1.63),(1832.0,1.62),
 (1833.1,1.51),(1834.0,1.62),(1838.0,1.6),(1841.6,1.39),(1842.5,1.6),(1845.8,1.48),(1846.7,1.59),(1849.0,1.58),
 (1851.4,1.39),(1852.3,1.58),(1855.6,1.26),(1856.5,1.57),(1858.4,1.37),(1859.3,1.56),(1862.6,1.28),(1863.5,1.56),
 (1865.4,1.37),(1866.3,1.55),(1869.0,1.54),(1870.5,1.4),(1871.5,1.54),(1873.9,1.31),(1874.6,1.5),(1875.3,1.26),
 (1876.2,1.53),(1878.1,1.31),(1879.0,1.52),(1883.7,1.28),(1884.6,1.51),(1888.0,1.5),(1890.7,1.34),(1891.6,1.49),
 (1896.0,1.48),(1900.0,1.47),(1907.3,1.37),(1908.2,1.46),(1915.7,1.37),(1916.6,1.44),(1924.1,1.37),(1925.0,1.43),
 (1935.0,1.4),(1945.2,1.28),(1946.1,1.38),(1955.0,1.36),(1960.7,1.25),(1961.6,1.34),(1965.2,1.14),(1966.1,1.33),
 (1969.4,1.25),(1970.3,1.32),(1974.4,1.47),(1975.5,1.31),(1985.0,1.3),(1991.0,1.3),(1992.4,1.59),(1994.0,1.35),
 (1996.0,1.27),(2003.1,1.24),(2017.1,1.18),(2018.0,1.1),(2019.0,1.18),(2031.2,1.12),(2032.0,1.04),(2033.0,1.12),
 (2056.0,1.06),(2057.0,1.0),(2058.0,1.06),(2068.0,1.03),(2096.1,0.98),(2105.0,0.96),(2105.6,0.91),(2106.3,0.96),
 (2124.2,0.95),(2152.3,0.91),(2163.5,0.89),(2166.9,0.93),(2169.0,0.87),(2186.0,0.87),(2188.8,0.95),(2191.6,0.89),
 (2208.4,0.84),(2214.1,0.82),(2217.7,0.95),(2221.2,0.87),(2236.5,0.82),(2250.6,0.78),(2252.8,0.87),(2254.8,0.93),
 (2259.0,0.84),(2270.0,0.81),(2292.7,0.79),(2298.3,0.78),(2299.2,0.54),(2300.2,0.78),(2304.8,0.74),(2308.2,0.92),
 (2312.4,0.84),(2320.8,0.78),(2348.9,0.77),(2377.0,0.74),(2382.6,0.74),(2385.4,0.84),(2388.2,0.99),(2393.8,0.87),
 (2400.0,0.77)]

P4_RED = [(1800.0,0.71),(1800.8,0.62),(1801.5,0.71),(1803.0,0.7),(1805.0,0.53),(1806.0,0.7),(1807.9,0.51),
 (1808.8,0.7),(1811.0,0.59),(1812.0,0.69),(1813.5,0.55),(1814.5,0.69),(1817.0,0.62),(1818.0,0.69),(1820.5,0.53),
 (1821.5,0.68),(1823.0,0.6),(1824.0,0.68),(1824.7,0.64),(1826.0,0.68),(1829.0,0.37),(1830.0,0.67),(1833.0,0.59),
 (1834.0,0.67),(1837.0,0.66),(1840.2,0.45),(1841.0,0.66),(1842.4,0.51),(1843.5,0.66),(1844.5,0.48),(1845.5,0.65),
 (1850.0,0.53),(1851.0,0.65),(1852.8,0.42),(1853.7,0.64),(1855.6,0.31),(1856.5,0.64),(1858.4,0.59),(1859.3,0.64),
 (1861.2,0.48),(1862.0,0.63),(1862.6,0.31),(1863.5,0.63),(1865.4,0.53),(1866.5,0.63),(1870.5,0.53),(1871.3,0.62),
 (1872.5,0.42),(1873.5,0.62),(1875.3,0.37),(1876.0,0.62),(1876.7,0.45),(1877.6,0.62),(1880.9,0.53),(1881.8,0.61),
 (1886.5,0.56),(1887.5,0.61),(1890.7,0.53),(1891.6,0.6),(1896.3,0.56),(1897.2,0.6),(1902.0,0.53),(1903.0,0.59),
 (1913.0,0.53),(1914.0,0.58),(1918.8,0.52),(1919.7,0.57),(1924.5,0.51),(1925.5,0.57),(1930.0,0.52),(1931.0,0.56),
 (1945.5,0.42),(1946.5,0.54),(1955.3,0.45),(1956.2,0.53),(1964.3,0.39),(1965.2,0.53),(1984.0,0.48),(1985.0,0.51),
 (2000.0,0.49),(2014.3,0.39),(2015.2,0.47),(2031.2,0.38),(2032.1,0.45),(2053.7,0.37),(2054.6,0.44),(2068.0,0.43),
 (2078.0,0.42),(2079.0,0.38),(2080.0,0.42),(2090.0,0.42),(2090.5,0.37),(2091.0,0.42),(2100.0,0.41),(2101.0,0.37),
 (2102.0,0.41),(2118.6,0.4),(2119.2,0.37),(2120.0,0.4),(2127.0,0.4),(2127.5,0.34),(2128.2,0.4),(2136.8,0.39),
 (2137.4,0.31),(2138.0,0.39),(2149.5,0.38),(2150.1,0.3),(2150.7,0.38),(2166.3,0.37),(2167.0,0.27),(2167.7,0.37),
 (2188.2,0.36),(2188.9,0.26),(2189.6,0.36),(2216.9,0.35),(2217.6,0.23),(2218.3,0.35),(2254.8,0.34),(2255.5,0.23),
 (2256.2,0.34),(2299.0,0.33),(2299.5,0.09),(2300.0,0.33),(2308.2,0.33),(2308.8,0.21),(2309.4,0.33),(2350.0,0.32),
 (2387.7,0.31),(2388.4,0.19),(2389.1,0.31),(2393.8,0.31),(2394.4,0.28),(2395.0,0.31),(2400.0,0.31)]

P5_BLACK = [(2400.0,0.78),(2404.0,0.77),(2407.0,0.78),(2411.6,0.77),(2416.1,0.78),(2419.2,0.76),(2423.7,0.75),
 (2428.3,0.74),(2432.9,0.74),(2437.4,0.73),(2442.0,0.73),(2446.6,0.72),(2451.1,0.73),(2455.7,0.72),(2460.3,0.72),
 (2464.8,0.72),(2469.4,0.72),(2474.0,0.71),(2478.5,0.72),(2483.1,0.71),(2487.6,0.71),(2492.2,0.71),(2495.3,0.74),
 (2497.4,0.7),(2501.3,0.71),(2505.9,0.73),(2510.5,0.78),(2513.5,0.82),(2515.6,0.88),(2518.1,0.82),(2520.2,0.74),
 (2522.6,0.71),(2528.7,0.69),(2534.8,0.68),(2540.9,0.67),(2547.0,0.67),(2553.1,0.66),(2559.2,0.65),(2563.7,0.67),
 (2568.3,0.65),(2572.9,0.64),(2575.9,0.63),(2578.0,0.58),(2580.5,0.64),(2583.5,0.64),(2585.9,0.58),(2587.8,0.4),
 (2589.6,0.58),(2591.1,0.64),(2594.2,0.63),(2596.3,0.6),(2598.7,0.63),(2600.2,0.49),(2601.2,0.33),(2603.0,0.58),
 (2604.8,0.61),(2609.4,0.63),(2613.9,0.62),(2618.5,0.63),(2623.1,0.62),(2627.6,0.63),(2632.2,0.62),(2636.8,0.62),
 (2641.3,0.61),(2645.9,0.61),(2650.5,0.61),(2655.0,0.61),(2659.6,0.61),(2665.7,0.62),(2667.2,0.64),(2670.2,0.61),
 (2676.3,0.6),(2680.9,0.59),(2687.0,0.58),(2693.1,0.58),(2699.4,0.57),(2708.6,0.57),(2717.7,0.57),(2723.8,0.57),
 (2726.8,0.58),(2729.9,0.64),(2732.9,0.74),(2736.0,0.82),(2738.4,0.75),(2742.0,0.64),(2746.6,0.58),(2751.2,0.56),
 (2757.2,0.55),(2763.3,0.54),(2769.4,0.54),(2775.5,0.53),(2781.6,0.53),(2787.7,0.52),(2793.2,0.51),(2795.3,0.36),
 (2797.4,0.17),(2799.2,0.39),(2800.8,0.49),(2802.3,0.42),(2804.4,0.21),(2806.5,0.44),(2809.0,0.51),(2815.1,0.5),
 (2821.2,0.5),(2827.2,0.5),(2833.3,0.49),(2839.4,0.49),(2845.5,0.49),(2850.1,0.48),(2852.5,0.42),(2854.0,0.32),
 (2856.2,0.46),(2859.2,0.49),(2866.8,0.49),(2875.9,0.49),(2885.1,0.48),(2894.2,0.47),(2903.3,0.47),(2912.5,0.46),
 (2916.1,0.46),(2917.6,0.54),(2919.1,0.46),(2927.7,0.47),(2936.8,0.45),(2945.9,0.44),(2955.0,0.44),(2964.2,0.43),
 (2973.3,0.44),(2982.4,0.44),(2985.5,0.45),(2991.6,0.43),(3000.7,0.43),(3009.8,0.43),(3019.0,0.42),(3028.1,0.42),
 (3037.2,0.41),(3043.3,0.41),(3050.0,0.4)]

P5_BLUE = [(2400.0,0.75),(2400.8,0.71),(2401.6,0.75),(2407.0,0.75),(2413.1,0.76),(2417.7,0.73),(2425.3,0.72),
 (2437.4,0.71),(2452.6,0.7),(2456.6,0.65),(2458.7,0.69),(2467.9,0.69),(2483.1,0.68),(2498.3,0.68),(2502.9,0.68),
 (2506.8,0.64),(2510.5,0.75),(2512.9,0.89),(2514.7,0.98),(2516.6,0.92),(2519.0,0.81),(2521.1,0.74),(2525.7,0.71),
 (2534.8,0.68),(2547.0,0.65),(2550.0,0.63),(2554.6,0.67),(2559.2,0.65),(2574.4,0.63),(2589.6,0.63),(2604.8,0.62),
 (2620.0,0.61),(2635.2,0.6),(2641.3,0.57),(2644.3,0.6),(2662.6,0.59),(2663.5,0.57),(2664.5,0.59),(2680.9,0.58),
 (2699.1,0.57),(2708.6,0.57),(2723.8,0.56),(2727.4,0.54),(2730.5,0.67),(2732.9,0.85),(2735.3,0.93),(2737.5,0.86),
 (2740.5,0.67),(2745.1,0.59),(2751.2,0.56),(2766.4,0.53),(2781.6,0.52),(2796.8,0.51),(2812.0,0.51),(2825.7,0.5),
 (2826.3,0.48),(2827.0,0.5),(2842.5,0.49),(2860.7,0.49),(2879.0,0.48),(2897.2,0.47),(2915.5,0.46),(2936.2,0.44),
 (2936.8,0.4),(2937.4,0.44),(2955.0,0.44),(2973.3,0.44),(2985.5,0.43),(2986.1,0.36),(2986.7,0.43),(3009.8,0.43),
 (3026.0,0.42),(3026.6,0.39),(3027.2,0.42),(3036.6,0.42),(3037.2,0.39),(3037.8,0.42),(3043.3,0.41),(3044.0,0.39),
 (3044.6,0.41),(3050.0,0.38)]

P5_RED = [(2400.0,0.32),(2400.4,0.25),(2400.8,0.32),(2420.0,0.31),(2440.0,0.31),(2457.0,0.3),(2457.5,0.25),
 (2458.0,0.3),(2463.0,0.3),(2463.5,0.27),(2464.0,0.3),(2490.0,0.29),(2513.0,0.28),(2513.5,0.17),(2514.0,0.28),
 (2519.2,0.28),(2519.6,0.23),(2520.0,0.28),(2560.0,0.27),(2600.0,0.26),(2641.0,0.25),(2641.3,0.22),(2641.7,0.25),
 (2662.5,0.25),(2663.0,0.23),(2663.5,0.25),(2700.0,0.24),(2735.7,0.23),(2736.0,0.14),(2736.4,0.23),(2763.0,0.22),
 (2763.4,0.21),(2763.8,0.22),(2825.5,0.21),(2826.0,0.18),(2826.5,0.21),(2900.0,0.2),(2936.5,0.19),(2936.8,0.15),
 (2937.1,0.19),(2985.8,0.18),(2986.1,0.11),(2986.4,0.18),(3026.3,0.17),(3026.6,0.13),(3026.9,0.17),(3036.9,0.17),
 (3037.2,0.14),(3037.5,0.17),(3043.0,0.17),(3043.3,0.13),(3043.6,0.17),(3050.0,0.15)]

# panel axis definitions
X_RANGES = [(1200, 1420), (1400, 1600), (1600, 1800), (1800, 2400), (2400, 3050)]
X_MAJOR = [50, 50, 50, 100, 100]
X_MINOR = [10, 10, 10, 20, 20]
Y_RANGES = [(0, 5), (0, 5), (0, 10), (0, 2), (0, 1)]
Y_TICKVALS = [[0, 1.25, 2.5, 3.75, 5], [0, 1.25, 2.5, 3.75, 5], [0, 2, 4, 6, 8, 10],
              [0, 0.5, 1.0, 1.5, 2.0], [0, 0.25, 0.5, 0.75, 1.0]]
Y_TICKTEXT = [["0.00", "1.25", "2.50", "3.75", "5.00"], ["0.00", "1.25", "2.50", "3.75", "5.00"],
              ["0", "2", "4", "6", "8", "10"], ["0.0", "0.5", "1.0", "1.5", "2.0"],
              ["0.00", "0.25", "0.50", "0.75", "1.00"]]

BLUE = "#2f8fff"
RED = "#ff2a2a"
FONT = "DejaVu Serif"

def xs(s):
    return [p[0] for p in s]

def ys(s):
    return [p[1] for p in s]

fig = make_subplots(rows=5, cols=1, vertical_spacing=88 / 952)

# panels 1-3: high-resolution (thick black) spectrum
for row, (blk, blu, red) in enumerate([(P1_BLACK, P1_BLUE, P1_RED), (P2_BLACK, P2_BLUE, P2_RED),
                                       (P3_BLACK, P3_BLUE, P3_RED)], start=1):
    fig.add_trace(go.Scatter(x=xs(blu), y=ys(blu), mode="lines", line=dict(color=BLUE, width=1)), row=row, col=1)
    fig.add_trace(go.Scatter(x=xs(blk), y=ys(blk), mode="lines", line=dict(color="black", width=2.5)), row=row, col=1)
    fig.add_trace(go.Scatter(x=xs(red), y=ys(red), mode="lines", line=dict(color=RED, width=0.8)), row=row, col=1)

fig.add_trace(go.Scatter(x=xs(P3_BLACK_LOWRES), y=ys(P3_BLACK_LOWRES), mode="lines",
                         line=dict(color="#555555", width=1)), row=3, col=1)

for row, (blk, blu, red) in enumerate([(P4_BLACK, P4_BLUE, P4_RED), (P5_BLACK, P5_BLUE, P5_RED)], start=4):
    fig.add_trace(go.Scatter(x=xs(blk), y=ys(blk), mode="lines", line=dict(color="#3a3a3a", width=1)), row=row, col=1)
    fig.add_trace(go.Scatter(x=xs(blu), y=ys(blu), mode="lines", line=dict(color=BLUE, width=1)), row=row, col=1)
    fig.add_trace(go.Scatter(x=xs(red), y=ys(red), mode="lines", line=dict(color=RED, width=0.8)), row=row, col=1)

for i in range(5):
    r = i + 1
    fig.update_xaxes(row=r, col=1, range=list(X_RANGES[i]), dtick=X_MAJOR[i], tick0=0,
                     ticks="inside", ticklen=6, tickwidth=1, tickcolor="black",
                     minor=dict(dtick=X_MINOR[i], ticks="inside", ticklen=3, tickcolor="black"),
                     showline=True, linecolor="black", linewidth=1.3, mirror="ticks",
                     showgrid=False, zeroline=False, ticklabelstandoff=8,
                     tickfont=dict(family=FONT, size=15, color="#222222"))
    ydict = dict(range=list(Y_RANGES[i]), tickvals=Y_TICKVALS[i], ticktext=Y_TICKTEXT[i],
                 ticks="inside", ticklen=14, tickwidth=1.2, tickcolor="black",
                 showline=True, linecolor="black", linewidth=1.3, mirror="ticks",
                 showgrid=False, zeroline=False, ticklabelstandoff=3,
                 tickfont=dict(family=FONT, size=15, color="#222222"))
    if i == 2:
        ydict["ticklen"] = 12
        ydict["minor"] = dict(dtick=0.5, ticks="inside", ticklen=6, tickcolor="black")
    fig.update_yaxes(row=r, col=1, **ydict)

fig.add_annotation(text="Flux X 1E\u221212 [erg/sec/cm<sup>2</sup>/A]", xref="paper", yref="paper",
                   x=-0.062, y=0.483, textangle=-90, showarrow=False, xanchor="center", yanchor="middle",
                   font=dict(family=FONT, size=15, color="#222222"))
fig.add_annotation(text="Wavelenght [A]", xref="paper", yref="paper", x=0.5, y=-0.045,
                   showarrow=False, xanchor="center", yanchor="middle",
                   font=dict(family=FONT, size=15, color="#222222"))

# page body adds an 8 px offset, so margins are reduced accordingly
fig.update_layout(width=830, height=1039, margin=dict(l=84, r=34, t=20, b=67),
                  paper_bgcolor="white", plot_bgcolor="white", showlegend=False)

fig.write_html("out.html")
